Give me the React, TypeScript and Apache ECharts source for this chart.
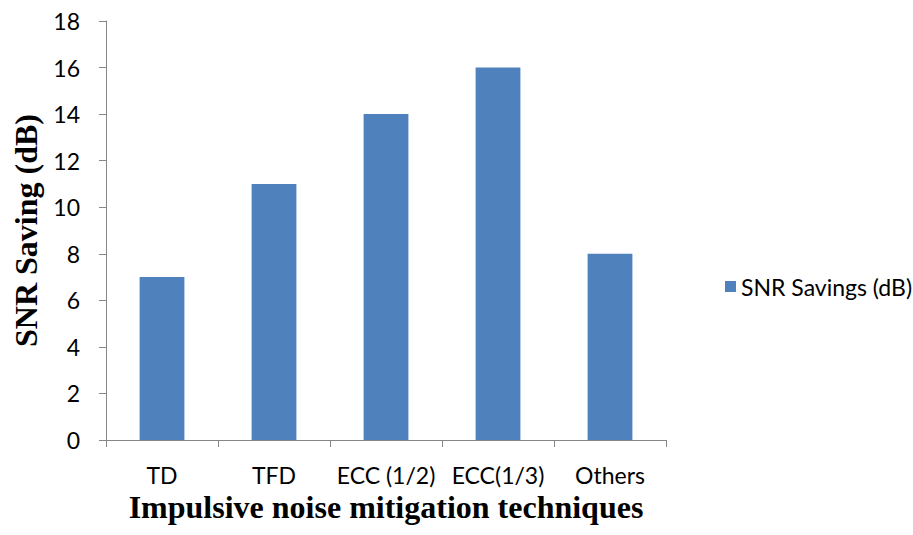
import React, { useEffect, useRef } from "react";
import * as echarts from "echarts";

const categories = ["TD", "TFD", "ECC (1/2)", "ECC(1/3)", "Others"];
const snrSavings = [7, 11, 14, 16, 8];
const seriesName = "SNR Savings (dB)";
const yAxisTitle = "SNR Saving (dB)";
const xAxisTitle = "Impulsive noise mitigation techniques";

export default function App() {
  const ref = useRef<HTMLDivElement>(null);
  useEffect(() => {
    if (!ref.current) return;
    const chart = echarts.init(ref.current, null, { renderer: "svg" });
    const axisColor = "#868686";
    const labelFont = "Lato, 'Noto Sans', sans-serif";
    const titleFont = "'Liberation Serif', 'DejaVu Serif', serif";
    chart.setOption({
      animation: false,
      backgroundColor: "#ffffff",
      grid: { left: 106, right: 247, top: 21, bottom: 95, containLabel: false },
      legend: {
        show: true,
        orient: "vertical",
        left: 720,
        top: 270,
        itemWidth: 11,
        itemHeight: 11,
        itemGap: 6,
        icon: "rect",
        textStyle: { fontFamily: labelFont, fontSize: 23, color: "#000" },
        data: [seriesName],
      },
      xAxis: {
        type: "category",
        data: categories,
        name: xAxisTitle,
        nameLocation: "middle",
        nameGap: 50,
        nameTextStyle: { fontFamily: titleFont, fontWeight: "bold", fontSize: 32, color: "#000" },
        axisLine: { lineStyle: { color: axisColor, width: 1 } },
        axisTick: { show: true, alignWithLabel: false, length: 7, lineStyle: { color: axisColor } },
        axisLabel: { interval: 0, margin: 23, fontFamily: labelFont, fontSize: 23, color: "#000" },
        splitLine: { show: false },
      },
      yAxis: {
        type: "value",
        min: 0,
        max: 18,
        interval: 2,
        name: yAxisTitle,
        nameLocation: "middle",
        nameGap: 62,
        nameTextStyle: { fontFamily: titleFont, fontWeight: "bold", fontSize: 32, color: "#000" },
        axisLine: { show: true, lineStyle: { color: axisColor, width: 1 } },
        axisTick: { show: true, length: 7, lineStyle: { color: axisColor } },
        axisLabel: { margin: 26, fontFamily: labelFont, fontSize: 23, color: "#000" },
        splitLine: { show: false },
      },
      series: [
        {
          name: seriesName,
          type: "bar",
          data: snrSavings,
          barWidth: "40%",
          itemStyle: { color: "#4F81BD" },
        },
      ],
    });
    return () => chart.dispose();
  }, []);
  return <div ref={ref} style={{ width: 913, height: 535, position: "absolute", left: 0, top: 0 }} />;
}
